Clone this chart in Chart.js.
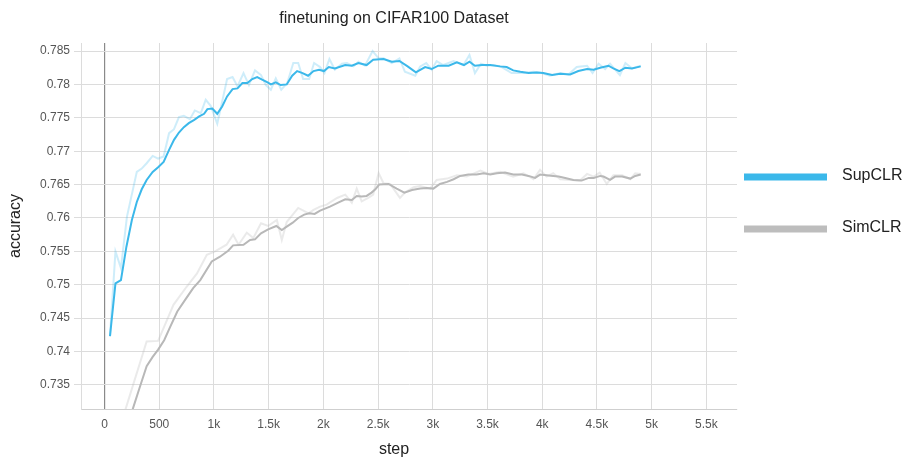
<!DOCTYPE html>
<html>
<head>
<meta charset="utf-8">
<script src="https://cdn.jsdelivr.net/npm/chart.js@4.4.1/dist/chart.umd.min.js"></script>
<style>
html,body{margin:0;padding:0;background:#fff;}
canvas{display:block;}
</style>
</head>
<body>
<canvas id="c" width="904" height="459"></canvas>
<script>
// ---- data ----
const chartTitle = "finetuning on CIFAR100 Dataset";
const xAxisTitle = "step";
const yAxisTitle = "accuracy";
const seriesNames = ["SupCLR", "SimCLR"];
const xTickValues = [0, 500, 1000, 1500, 2000, 2500, 3000, 3500, 4000, 4500, 5000, 5500];
const yTickValues = [0.735, 0.74, 0.745, 0.75, 0.755, 0.76, 0.765, 0.77, 0.775, 0.78, 0.785];

// SupCLR smoothed
const supSteps = [50,100,150,200,250,295,340,385,440,490,540,590,635,680,725,770,820,865,910,940,985,1030,1075,1120,1170,1215,1260,1305,1350,1395,1440,1490,1520,1565,1610,1665,1715,1760,1810,1860,1910,1960,2005,2050,2105,2200,2260,2320,2395,2455,2550,2625,2695,2770,2845,2930,2990,3050,3145,3220,3285,3335,3385,3450,3525,3615,3675,3735,3800,3875,3950,4010,4090,4165,4255,4330,4410,4470,4530,4605,4650,4705,4760,4820,4900];
const supSmooth = [0.7423,0.7502,0.7507,0.7557,0.7597,0.7624,0.7643,0.7657,0.7669,0.7676,0.7684,0.7702,0.7717,0.7728,0.7736,0.7742,0.7747,0.7752,0.7756,0.7763,0.7764,0.7756,0.7767,0.7782,0.7793,0.7794,0.7802,0.7802,0.7808,0.7811,0.7807,0.7803,0.7800,0.7803,0.7799,0.7800,0.7813,0.7820,0.7817,0.7813,0.7820,0.7822,0.7820,0.7826,0.7824,0.7829,0.7828,0.7832,0.7829,0.7837,0.7838,0.7834,0.7835,0.7827,0.7818,0.7826,0.7823,0.7828,0.7828,0.7833,0.7829,0.7834,0.7828,0.7829,0.7829,0.7827,0.7826,0.7821,0.7819,0.7817,0.7818,0.7817,0.7814,0.7816,0.7815,0.7820,0.7823,0.7822,0.7825,0.7828,0.7824,0.7820,0.7825,0.7824,0.7827];

// SupCLR raw
const supRawSteps = [50,100,150,205,295,340,385,440,490,540,590,635,680,725,780,825,880,925,970,1030,1075,1120,1170,1215,1270,1320,1375,1430,1475,1520,1565,1615,1670,1725,1770,1815,1870,1915,1970,2010,2055,2105,2170,2215,2275,2320,2380,2450,2505,2550,2625,2695,2745,2840,2885,2940,2990,3035,3095,3190,3280,3335,3385,3440,3495,3555,3630,3720,3830,3920,3995,4070,4165,4240,4315,4410,4460,4515,4575,4620,4710,4760,4820,4900];
const supRaw = [0.7423,0.7550,0.7525,0.7602,0.7669,0.7674,0.7682,0.7693,0.7689,0.7692,0.7727,0.7733,0.7751,0.7753,0.7748,0.7761,0.7757,0.7777,0.7768,0.7741,0.7774,0.7808,0.7811,0.7797,0.7817,0.7799,0.7821,0.7814,0.7799,0.7792,0.7809,0.7792,0.7802,0.7832,0.7832,0.7808,0.7808,0.7832,0.7826,0.7817,0.7838,0.7822,0.7831,0.7832,0.7827,0.7834,0.7828,0.7850,0.7839,0.7839,0.7832,0.7839,0.7819,0.7813,0.7827,0.7832,0.7822,0.7835,0.7829,0.7835,0.7829,0.7844,0.7817,0.7831,0.7828,0.7829,0.7826,0.7817,0.7817,0.7819,0.7817,0.7813,0.7817,0.7815,0.7826,0.7828,0.7817,0.7831,0.7823,0.7831,0.7814,0.7832,0.7824,0.7828];

// SimCLR smoothed
const simSteps = [205,260,325,385,440,490,545,600,665,735,810,875,980,1055,1130,1175,1270,1330,1375,1430,1495,1570,1620,1665,1720,1770,1825,1870,1920,1970,2060,2135,2200,2260,2305,2350,2395,2440,2475,2510,2595,2670,2740,2810,2885,2945,3005,3065,3130,3190,3250,3325,3400,3465,3525,3585,3660,3735,3815,3875,3935,3980,4040,4100,4150,4210,4285,4360,4425,4470,4530,4560,4620,4665,4730,4805,4850,4900];
const simSmooth = [0.7287,0.7315,0.7348,0.7378,0.7392,0.7403,0.7417,0.7437,0.7460,0.7477,0.7495,0.7507,0.7535,0.7542,0.7551,0.7559,0.7560,0.7567,0.7568,0.7577,0.7583,0.7588,0.7582,0.7587,0.7593,0.7600,0.7605,0.7607,0.7606,0.7611,0.7617,0.7623,0.7628,0.7627,0.7633,0.7632,0.7633,0.7638,0.7643,0.7650,0.7651,0.7644,0.7638,0.7642,0.7644,0.7645,0.7644,0.7651,0.7654,0.7658,0.7663,0.7665,0.7665,0.7667,0.7665,0.7667,0.7668,0.7665,0.7665,0.7663,0.7660,0.7665,0.7664,0.7663,0.7662,0.7660,0.7657,0.7656,0.7660,0.7660,0.7663,0.7662,0.7657,0.7662,0.7662,0.7659,0.7663,0.7665];

// SimCLR raw
const simRawSteps = [185,385,490,630,750,845,935,1010,1115,1175,1225,1300,1360,1430,1495,1575,1620,1665,1770,1865,1910,1970,2030,2125,2200,2260,2305,2350,2410,2455,2505,2550,2610,2700,2745,2825,2885,2975,3035,3130,3220,3310,3435,3510,3615,3735,3830,3920,3980,4040,4100,4165,4255,4345,4410,4470,4525,4590,4650,4730,4805,4850,4900];
const simRaw = [0.7310,0.7415,0.7416,0.7470,0.7497,0.7517,0.7545,0.7550,0.7560,0.7575,0.7560,0.7578,0.7570,0.7592,0.7588,0.7597,0.7567,0.7594,0.7615,0.7607,0.7612,0.7617,0.7620,0.7630,0.7635,0.7623,0.7644,0.7625,0.7630,0.7635,0.7667,0.7652,0.7651,0.7630,0.7638,0.7646,0.7648,0.7644,0.7657,0.7659,0.7664,0.7662,0.7671,0.7666,0.7669,0.7662,0.7667,0.7658,0.7672,0.7662,0.7667,0.7658,0.7657,0.7656,0.7666,0.7662,0.7668,0.7651,0.7664,0.7664,0.7658,0.7667,0.7666];

// ---- styling ----
const FONT = 'Arial, "Liberation Sans", Helvetica, sans-serif';
const BLUE = '#3bb8ea';
const BLUE_RAW = 'rgba(59,184,234,0.25)';
const GRAY = '#b8b8b8';
const GRAY_RAW = 'rgba(184,184,184,0.3)';
const legendColors = [BLUE, '#bdbdbd'];

const pts = (xs, ys) => xs.map((x, i) => ({x: x, y: ys[i]}));

const textPlugin = {
  id: 'texts',
  afterDraw(chart) {
    const ctx = chart.ctx;
    const a = chart.chartArea;
    ctx.save();
    ctx.fillStyle = '#222';
    ctx.textAlign = 'center';
    ctx.textBaseline = 'middle';
    ctx.font = '16px ' + FONT;
    ctx.fillText(chartTitle, a.left + 313, 19);
    ctx.font = '16px ' + FONT;
    ctx.fillText(xAxisTitle, a.left + 313, 450);
    // legend
    ctx.textAlign = 'left';
    seriesNames.forEach((name, i) => {
      const cy = 177 + i * 52;
      ctx.fillStyle = legendColors[i];
      ctx.fillRect(a.right + 7, cy - 3.5, 83, 7);
      ctx.fillStyle = '#222';
      ctx.font = '16px ' + FONT;
      ctx.fillText(name, a.right + 105, cy - 1);
    });
    ctx.restore();
  }
};

new Chart(document.getElementById('c'), {
  type: 'line',
  data: {
    datasets: [
      {label: seriesNames[0], data: pts(supSteps, supSmooth), borderColor: BLUE, borderWidth: 2, pointRadius: 0, order: 0, tension: 0},
      {label: seriesNames[1], data: pts(simSteps, simSmooth), borderColor: GRAY, borderWidth: 2, pointRadius: 0, order: 0, tension: 0},
      {label: seriesNames[0] + ' raw', data: pts(supRawSteps, supRaw), borderColor: BLUE_RAW, borderWidth: 2, pointRadius: 0, order: 1, tension: 0},
      {label: seriesNames[1] + ' raw', data: pts(simRawSteps, simRaw), borderColor: GRAY_RAW, borderWidth: 2, pointRadius: 0, order: 1, tension: 0}
    ]
  },
  options: {
    responsive: false,
    animation: false,
    devicePixelRatio: 1,
    layout: {padding: {top: 43, right: 167, bottom: 0, left: 0}},
    plugins: {
      legend: {display: false},
      title: {display: false},
      tooltip: {enabled: false}
    },
    scales: {
      x: {
        type: 'linear',
        min: -215,
        max: 5780,
        afterBuildTicks: (s) => { s.ticks = xTickValues.map(v => ({value: v})); },
        afterFit: (s) => { s.height = 50; },
        ticks: {
          font: {family: FONT, size: 12},
          color: '#555',
          padding: 8,
          maxRotation: 0,
          autoSkip: false,
          callback: (v) => v >= 1000 ? (v / 1000) + 'k' : String(v)
        },
        grid: {
          drawTicks: false,
          color: (c) => (c.tick && c.tick.value === 0) ? '#8a8a8a' : '#dcdcdc',
          lineWidth: (c) => (c.tick && c.tick.value === 0) ? 1.2 : 1
        },
        border: {display: true, color: '#cfcfcf'}
      },
      y: {
        type: 'linear',
        min: 0.7314,
        max: 0.7862,
        afterBuildTicks: (s) => { s.ticks = yTickValues.map(v => ({value: v})); },
        afterFit: (s) => { s.width = 81; },
        ticks: {
          font: {family: FONT, size: 12},
          color: '#555',
          padding: 4,
          autoSkip: false,
          callback: (v) => String(+(+v).toFixed(3))
        },
        grid: {drawTicks: true, tickLength: 7, color: '#dcdcdc'},
        border: {display: true, color: '#dcdcdc'},
        title: {display: true, text: yAxisTitle, color: '#222', font: {family: FONT, size: 16}, padding: {top: 6, bottom: 0}}
      }
    }
  },
  plugins: [textPlugin]
});
</script>
</body>
</html>
